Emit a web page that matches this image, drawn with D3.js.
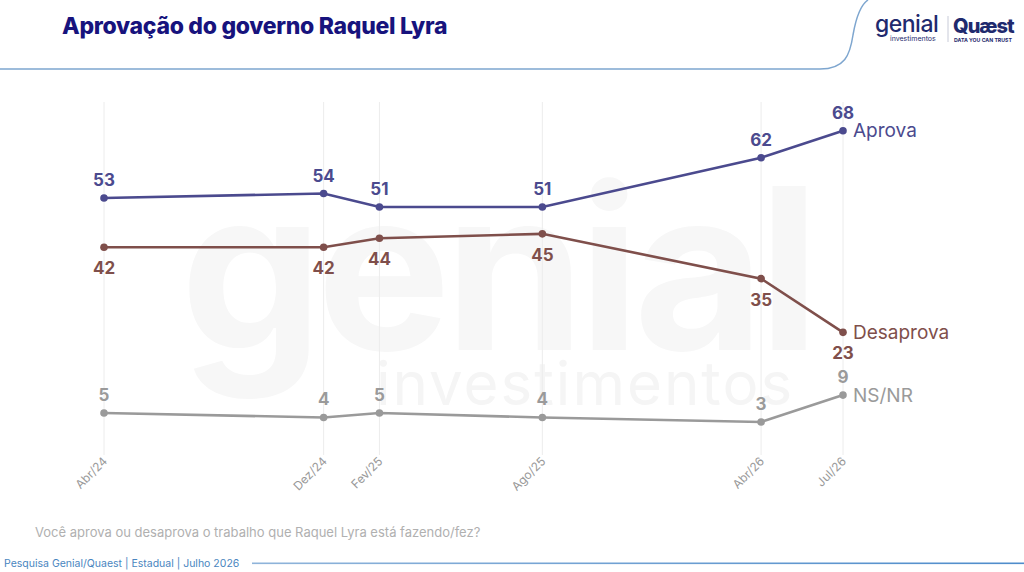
<!DOCTYPE html>
<html>
<head>
<meta charset="utf-8">
<script src="https://cdn.jsdelivr.net/npm/d3@7"></script>
<style>
  body { margin: 0; background: #fff; }
  svg { display: block; font-family: Inter, "Noto Sans", sans-serif; }
</style>
</head>
<body>
<svg id="chart" width="1024" height="572"></svg>
<script>
//// DATA
const dates = ["2024-04", "2024-12", "2025-02", "2025-08", "2026-04", "2026-07"]
const tickLabels = ["Abr/24", "Dez/24", "Fev/25", "Ago/25", "Abr/26", "Jul/26"]
const aprova = [53, 54, 51, 51, 62, 68]
const desaprova = [42, 42, 44, 45, 35, 23]
const nsnr = [5, 4, 5, 4, 3, 9]

const series = [
  { name: "Aprova", values: aprova, color: "#4b4a8e", above: true },
  { name: "Desaprova", values: desaprova, color: "#7f4f4b", above: false },
  { name: "NS/NR", values: nsnr, color: "#9a9a9a", above: true }
]

const parse = d3.timeParse("%Y-%m")
const svg = d3.select("#chart")

// scales
const x = d3.scaleTime()
  .domain([parse(dates[0]), parse(dates[dates.length - 1])])
  .range([104, 843])
const y = d3.scaleLinear()
  .domain([0, 68])
  .range([435.4, 130.8])

// header: title, curved rule, logos
svg.append("text")
  .attr("x", 62).attr("y", 34)
  .attr("font-size", 23).attr("font-weight", 800)
  .attr("fill", "#17137d")
  .attr("letter-spacing", -0.3)
  .text("Aprovação do governo Raquel Lyra")

svg.append("path")
  .attr("d", "M0,69 L820,69 C845,69 850,55 853,35 C857,12 862,4 868,0")
  .attr("fill", "none")
  .attr("stroke", "#7ea6cf")
  .attr("stroke-width", 1.5)

const logo = svg.append("g")
logo.append("text")
  .attr("x", 875).attr("y", 32)
  .attr("font-size", 23).attr("font-weight", 500).attr("fill", "#1f2a6e")
  .attr("letter-spacing", -0.5)
  .text("genial")
logo.append("text")
  .attr("x", 890).attr("y", 41)
  .attr("font-size", 7).attr("fill", "#1f2a6e")
  .text("investimentos")
logo.append("line")
  .attr("x1", 948).attr("x2", 948).attr("y1", 16).attr("y2", 42)
  .attr("stroke", "#c8cbd8")
logo.append("text")
  .attr("x", 953).attr("y", 33)
  .attr("font-size", 20).attr("font-weight", 800).attr("fill", "#1f2a6e")
  .attr("letter-spacing", -1)
  .text("Quæst")
logo.append("text")
  .attr("x", 954).attr("y", 42)
  .attr("font-size", 5.2).attr("font-weight", 700).attr("fill", "#1f2a6e")
  .text("DATA YOU CAN TRUST")

// watermark
svg.append("text")
  .attr("x", 497).attr("y", 350)
  .attr("text-anchor", "middle")
  .attr("font-size", 225).attr("font-weight", 700)
  .attr("fill", "#f7f7f7")
  .attr("letter-spacing", -6)
  .text("genial")
svg.append("text")
  .attr("x", 585).attr("y", 405)
  .attr("text-anchor", "middle")
  .attr("font-size", 60)
  .attr("fill", "#f5f5f5")
  .attr("letter-spacing", 2)
  .text("investimentos")

// vertical grid lines at each survey date
svg.append("g")
  .selectAll("line")
  .data(dates)
  .join("line")
  .attr("x1", d => x(parse(d))).attr("x2", d => x(parse(d)))
  .attr("y1", 102).attr("y2", 455)
  .attr("stroke", "#ececec")
  .attr("stroke-width", 1)

// rotated tick labels
svg.append("g")
  .selectAll("text")
  .data(dates)
  .join("text")
  .attr("transform", (d, i) => `translate(${x(parse(d)) + 4},462) rotate(-45)`)
  .attr("text-anchor", "end")
  .attr("font-size", 12)
  .attr("fill", "#999")
  .text((d, i) => tickLabels[i])

const line = d3.line()
  .x((v, i) => x(parse(dates[i])))
  .y(v => y(v))

series.forEach(s => {
  const g = svg.append("g")
  g.append("path")
    .attr("d", line(s.values))
    .attr("fill", "none")
    .attr("stroke", s.color)
    .attr("stroke-width", 2.6)
  g.selectAll("circle")
    .data(s.values)
    .join("circle")
    .attr("cx", (v, i) => x(parse(dates[i])))
    .attr("cy", v => y(v))
    .attr("r", 3.8)
    .attr("fill", s.color)
  g.selectAll(".val")
    .data(s.values)
    .join("text")
    .attr("class", "val")
    .attr("x", (v, i) => x(parse(dates[i])))
    .attr("y", v => s.above ? y(v) - 12 : y(v) + 27)
    .attr("text-anchor", "middle")
    .attr("font-size", 17)
    .attr("font-weight", 700)
    .attr("fill", s.color)
    .text(v => v)
  const last = s.values.length - 1
  g.append("text")
    .attr("x", x(parse(dates[last])) + 10)
    .attr("y", y(s.values[last]) + 6.5)
    .attr("font-size", 19)
    .attr("fill", s.color)
    .text(s.name)
})

// question and footer
svg.append("text")
  .attr("x", 35).attr("y", 537)
  .attr("font-size", 13)
  .attr("fill", "#b0b0b0")
  .text("Você aprova ou desaprova o trabalho que Raquel Lyra está fazendo/fez?")

svg.append("text")
  .attr("x", 4).attr("y", 567)
  .attr("font-size", 10.5)
  .attr("fill", "#4a86c0")
  .text("Pesquisa Genial/Quaest | Estadual | Julho 2026")

const grad = svg.append("defs").append("linearGradient")
  .attr("id", "foot").attr("x1", 0).attr("x2", 1)
grad.append("stop").attr("offset", 0).attr("stop-color", "#8fb4da")
grad.append("stop").attr("offset", 1).attr("stop-color", "#4e8ccb")
svg.append("rect")
  .attr("x", 252).attr("y", 562.5)
  .attr("width", 772).attr("height", 1.6)
  .attr("fill", "url(#foot)")
</script>
</body>
</html>
